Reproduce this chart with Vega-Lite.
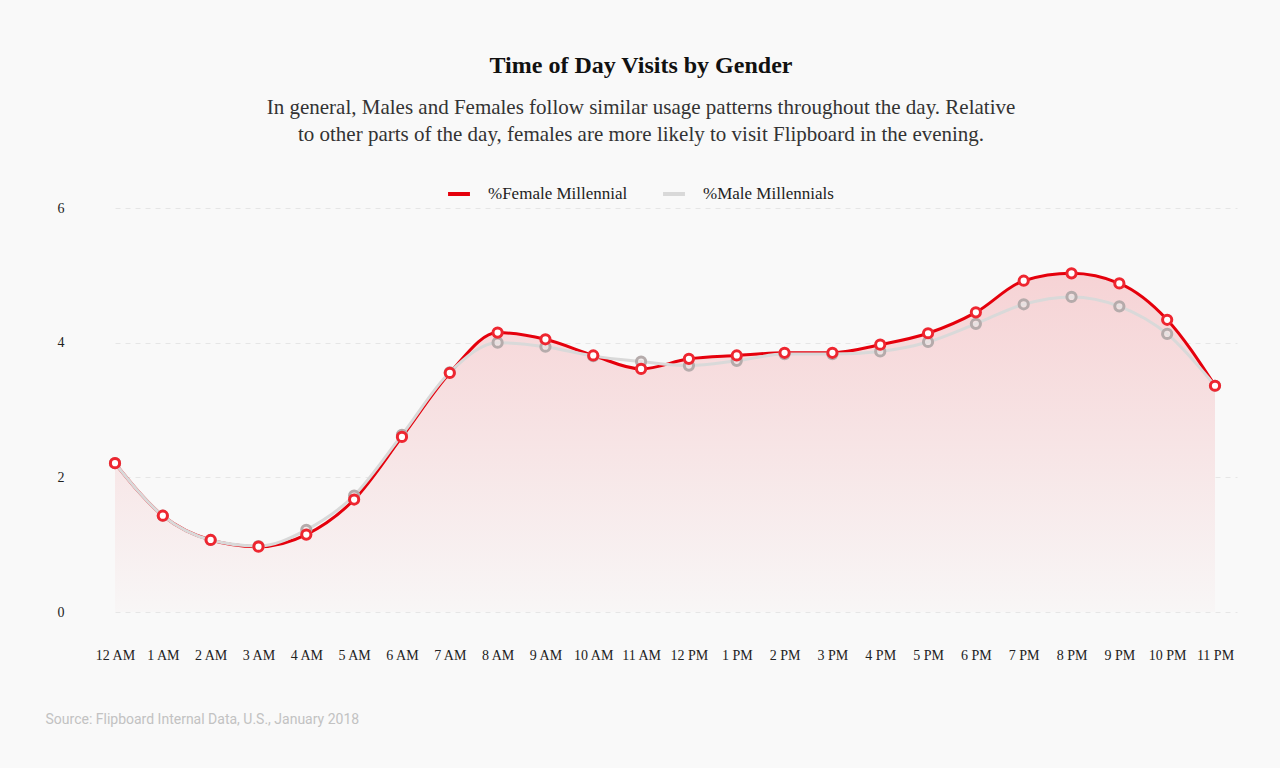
{
  "$schema": "https://vega.github.io/schema/vega-lite/v6.json",
  "autosize": {"type": "none"},
  "width": 1122,
  "height": 404,
  "padding": {"left": 115, "top": 208, "right": 43, "bottom": 156},
  "background": "#f9f9f9",
  "title": {
    "text": "Time of Day Visits by Gender",
    "subtitle": [
      "In general, Males and Females follow similar usage patterns throughout the day. Relative",
      "to other parts of the day, females are more likely to visit Flipboard in the evening."
    ],
    "anchor": "middle",
    "frame": "bounds",
    "offset": 36,
    "font": "Liberation Serif",
    "fontSize": 24,
    "fontWeight": "bold",
    "color": "#111111",
    "subtitleFont": "Liberation Serif",
    "subtitleFontSize": 21,
    "subtitleColor": "#333333",
    "subtitleLineHeight": 27,
    "subtitlePadding": 19
  },
  "data": {
    "values": [
      {"hour": 0, "series": "%Female Millennial", "value": 2.21},
      {"hour": 1, "series": "%Female Millennial", "value": 1.43},
      {"hour": 2, "series": "%Female Millennial", "value": 1.07},
      {"hour": 3, "series": "%Female Millennial", "value": 0.97},
      {"hour": 4, "series": "%Female Millennial", "value": 1.15},
      {"hour": 5, "series": "%Female Millennial", "value": 1.67},
      {"hour": 6, "series": "%Female Millennial", "value": 2.6},
      {"hour": 7, "series": "%Female Millennial", "value": 3.55},
      {"hour": 8, "series": "%Female Millennial", "value": 4.15},
      {"hour": 9, "series": "%Female Millennial", "value": 4.05},
      {"hour": 10, "series": "%Female Millennial", "value": 3.81},
      {"hour": 11, "series": "%Female Millennial", "value": 3.61},
      {"hour": 12, "series": "%Female Millennial", "value": 3.76},
      {"hour": 13, "series": "%Female Millennial", "value": 3.81},
      {"hour": 14, "series": "%Female Millennial", "value": 3.85},
      {"hour": 15, "series": "%Female Millennial", "value": 3.85},
      {"hour": 16, "series": "%Female Millennial", "value": 3.97},
      {"hour": 17, "series": "%Female Millennial", "value": 4.14},
      {"hour": 18, "series": "%Female Millennial", "value": 4.45},
      {"hour": 19, "series": "%Female Millennial", "value": 4.92},
      {"hour": 20, "series": "%Female Millennial", "value": 5.03},
      {"hour": 21, "series": "%Female Millennial", "value": 4.88},
      {"hour": 22, "series": "%Female Millennial", "value": 4.34},
      {"hour": 23, "series": "%Female Millennial", "value": 3.36},
      {"hour": 0, "series": "%Male Millennials", "value": 2.21},
      {"hour": 1, "series": "%Male Millennials", "value": 1.43},
      {"hour": 2, "series": "%Male Millennials", "value": 1.07},
      {"hour": 3, "series": "%Male Millennials", "value": 0.98},
      {"hour": 4, "series": "%Male Millennials", "value": 1.22},
      {"hour": 5, "series": "%Male Millennials", "value": 1.73},
      {"hour": 6, "series": "%Male Millennials", "value": 2.63},
      {"hour": 7, "series": "%Male Millennials", "value": 3.56},
      {"hour": 8, "series": "%Male Millennials", "value": 4.0},
      {"hour": 9, "series": "%Male Millennials", "value": 3.94},
      {"hour": 10, "series": "%Male Millennials", "value": 3.8},
      {"hour": 11, "series": "%Male Millennials", "value": 3.72},
      {"hour": 12, "series": "%Male Millennials", "value": 3.66},
      {"hour": 13, "series": "%Male Millennials", "value": 3.73},
      {"hour": 14, "series": "%Male Millennials", "value": 3.83},
      {"hour": 15, "series": "%Male Millennials", "value": 3.83},
      {"hour": 16, "series": "%Male Millennials", "value": 3.87},
      {"hour": 17, "series": "%Male Millennials", "value": 4.01},
      {"hour": 18, "series": "%Male Millennials", "value": 4.28},
      {"hour": 19, "series": "%Male Millennials", "value": 4.57},
      {"hour": 20, "series": "%Male Millennials", "value": 4.68},
      {"hour": 21, "series": "%Male Millennials", "value": 4.54},
      {"hour": 22, "series": "%Male Millennials", "value": 4.13},
      {"hour": 23, "series": "%Male Millennials", "value": 3.36}
    ]
  },
  "encoding": {
    "x": {
      "field": "hour",
      "type": "quantitative",
      "scale": {"domain": [0, 23.46], "nice": false, "zero": false},
      "axis": {
        "values": [0, 1, 2, 3, 4, 5, 6, 7, 8, 9, 10, 11, 12, 13, 14, 15, 16, 17, 18, 19, 20, 21, 22, 23],
        "labelExpr": "datum.value == 0 ? '12 AM' : datum.value < 12 ? datum.value + ' AM' : datum.value == 12 ? '12 PM' : (datum.value - 12) + ' PM'",
        "grid": false,
        "domain": false,
        "ticks": false,
        "labelPadding": 36,
        "labelFont": "Liberation Serif",
        "labelFontSize": 14,
        "labelColor": "#222222",
        "labelFlush": false,
        "title": "Source: Flipboard Internal Data, U.S., January 2018",
        "titleFont": "Roboto",
        "titleFontSize": 14,
        "titleFontWeight": "normal",
        "titleColor": "#c2c2c2",
        "titleAnchor": "start",
        "titleAlign": "left",
        "titleBaseline": "alphabetic",
        "titleX": -70,
        "titleY": 111
      }
    },
    "y": {
      "field": "value",
      "type": "quantitative",
      "scale": {"domain": [0, 6], "nice": false},
      "axis": {
        "values": [0, 2, 4, 6],
        "title": null,
        "domain": false,
        "ticks": false,
        "labelPadding": 51,
        "labelFont": "Liberation Serif",
        "labelFontSize": 14,
        "labelColor": "#222222",
        "labelBaseline": "middle",
        "gridColor": "#e6e6e6",
        "gridDash": [5, 5],
        "gridWidth": 1
      }
    }
  },
  "layer": [
    {
      "transform": [{"filter": "datum.series == '%Female Millennial'"}],
      "mark": {
        "type": "area",
        "interpolate": "monotone",
        "color": {
          "gradient": "linear",
          "x1": 0, "y1": 0, "x2": 0, "y2": 1,
          "stops": [
            {"offset": 0, "color": "#f6d3d5"},
            {"offset": 0.5, "color": "#f7e4e5"},
            {"offset": 1, "color": "#f8f6f6"}
          ]
        }
      }
    },
    {
      "mark": {"type": "line", "interpolate": "monotone", "strokeWidth": 3},
      "encoding": {
        "color": {
          "field": "series",
          "type": "nominal",
          "sort": ["%Male Millennials", "%Female Millennial"],
          "scale": {"domain": ["%Male Millennials", "%Female Millennial"], "range": ["#d9d9d9", "#e5000c"]},
          "legend": {
            "orient": "none",
            "legendX": 331,
            "legendY": -27,
            "direction": "horizontal",
            "title": null,
            "values": ["%Female Millennial", "%Male Millennials"],
            "symbolType": "stroke",
            "symbolSize": 480,
            "symbolStrokeWidth": 4,
            "labelFont": "Liberation Serif",
            "labelFontSize": 17,
            "labelColor": "#222222",
            "labelOffset": 16,
            "columnPadding": 27
          }
        }
      }
    },
    {
      "transform": [{"filter": "datum.series == '%Male Millennials'"}],
      "mark": {"type": "point", "filled": false, "size": 85, "strokeWidth": 3, "stroke": "#b5abab", "fill": "#efe6e6", "fillOpacity": 0.6, "opacity": 1}
    },
    {
      "transform": [{"filter": "datum.series == '%Female Millennial'"}],
      "mark": {"type": "point", "filled": false, "size": 85, "strokeWidth": 3, "stroke": "#ee2630", "fill": "#ffffff", "fillOpacity": 1, "opacity": 1}
    }
  ],
  "config": {
    "view": {"stroke": null},
    "font": "Liberation Serif"
  }
}
